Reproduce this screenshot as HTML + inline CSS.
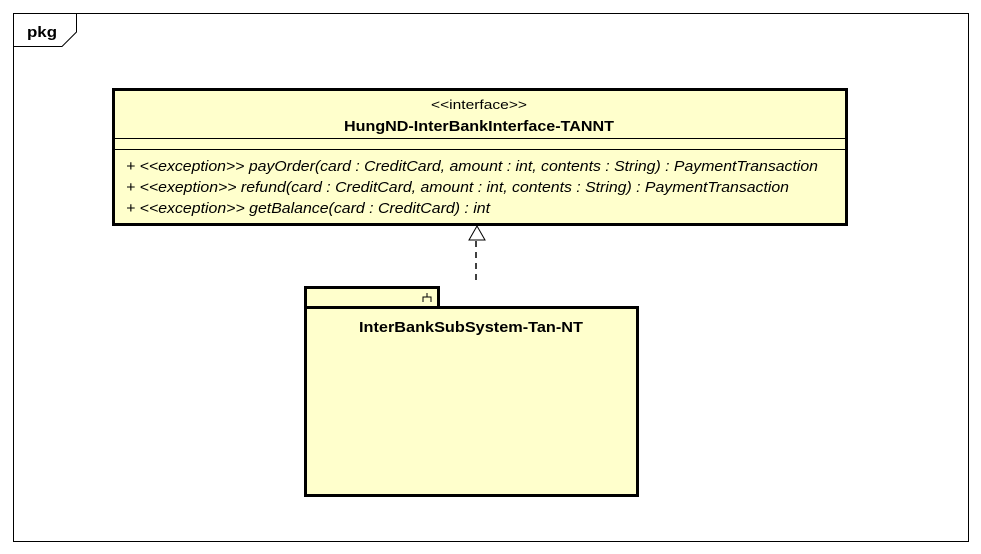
<!DOCTYPE html>
<html><head><style>
html,body{margin:0;padding:0;background:#fff;}
svg{display:block;}
text{font-family:"Liberation Sans",Arial,sans-serif;fill:#000;}
</style></head><body>
<svg width="981" height="554" viewBox="0 0 981 554" xmlns="http://www.w3.org/2000/svg">
<rect x="13.5" y="13.5" width="955" height="528" fill="#fff" stroke="#000" stroke-width="1"/>
<path d="M13.5 46.5 H62 L76.5 32 V13.5" fill="none" stroke="#000" stroke-width="1"/>
<text x="27" y="37" font-size="15" font-weight="bold" textLength="30" lengthAdjust="spacingAndGlyphs">pkg</text>

<rect x="113.5" y="89.5" width="733" height="135" fill="#ffffcc" stroke="#000" stroke-width="3"/>
<line x1="113" y1="138.5" x2="847" y2="138.5" stroke="#000" stroke-width="1"/>
<line x1="113" y1="149.5" x2="847" y2="149.5" stroke="#000" stroke-width="1"/>
<text x="431" y="109" font-size="13" textLength="96" lengthAdjust="spacingAndGlyphs">&lt;&lt;interface&gt;&gt;</text>
<text x="344" y="131" font-size="15" font-weight="bold" textLength="270" lengthAdjust="spacingAndGlyphs">HungND-InterBankInterface-TANNT</text>
<text x="126" y="171" font-size="15" font-style="italic" textLength="692" lengthAdjust="spacingAndGlyphs">+ &lt;&lt;exception&gt;&gt; payOrder(card : CreditCard, amount : int, contents : String) : PaymentTransaction</text>
<text x="126" y="192" font-size="15" font-style="italic" textLength="663" lengthAdjust="spacingAndGlyphs">+ &lt;&lt;exeption&gt;&gt; refund(card : CreditCard, amount : int, contents : String) : PaymentTransaction</text>
<text x="126" y="213" font-size="15" font-style="italic" textLength="364" lengthAdjust="spacingAndGlyphs">+ &lt;&lt;exception&gt;&gt; getBalance(card : CreditCard) : int</text>

<polygon points="477,226 469,240 485,240" fill="#fff" stroke="#000" stroke-width="1"/>
<line x1="476" y1="241" x2="476" y2="285" stroke="#000" stroke-width="1.5" stroke-dasharray="6,5"/>

<rect x="305.5" y="287.5" width="133" height="20" fill="#ffffcc" stroke="#000" stroke-width="3"/>
<rect x="305.5" y="307.5" width="332" height="188" fill="#ffffcc" stroke="#000" stroke-width="3"/>
<path d="M423 302 V297 H431 V302 M427 297 V293" fill="none" stroke="#000" stroke-width="1"/>
<text x="359" y="332" font-size="15" font-weight="bold" textLength="224" lengthAdjust="spacingAndGlyphs">InterBankSubSystem-Tan-NT</text>
</svg>
</body></html>
